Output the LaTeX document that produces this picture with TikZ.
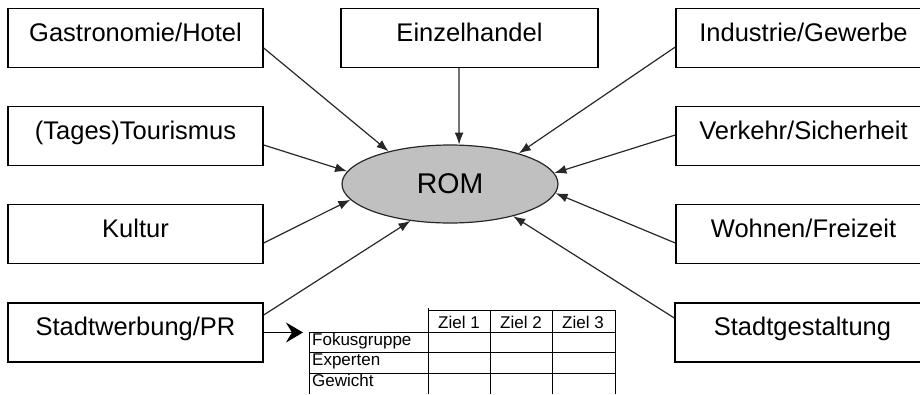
\documentclass[tikz,border=0pt]{standalone}
\usepackage{fontspec}
\setmainfont{Liberation Sans}
\usetikzlibrary{arrows.meta,shapes.geometric}
\definecolor{romgray}{RGB}{192,192,192}
\definecolor{linegray}{RGB}{40,40,40}

\begin{document}
\begin{tikzpicture}[x=1pt,y=-1pt,
	field/.style={shape=rectangle,draw=black,line width=1.4pt,minimum width=255pt,minimum height=59pt,
		inner sep=0pt,text height=18pt,text depth=12pt,font=\fontsize{25.5}{28}\selectfont},
	goal/.style={-{Latex[length=12pt,width=9pt]},draw=linegray,line width=1.2pt},
	cell/.style={inner sep=0pt,font=\fontsize{17}{19}\selectfont},
	grid/.style={draw=black,line width=1pt}]
	
	\useasboundingbox (0,0) rectangle (920,394);
	
	\node[shape=ellipse,draw=linegray,fill=romgray,line width=1.2pt,minimum width=216pt,minimum height=78pt,
		inner sep=0pt,font=\fontsize{28.5}{30}\selectfont] (rom) at (450, 184)  {ROM};
	
	\node[field] (gast) at (135.5, 38)   {Gastronomie/Hotel};
	\node[field] (tour) at (135.5, 136)  {(Tages)Tourismus};
	\node[field] (kult) at (135.5, 234)  {Kultur};
	\node[field] (werb) at (135.5, 332.5) {Stadtwerbung/PR};
	\node[field,minimum width=257pt] (einz) at (469.5, 38) {Einzelhandel};
	\node[field] (indu) at (803.5, 38)   {Industrie/Gewerbe};
	\node[field] (verk) at (803.5, 136)  {Verkehr/Sicherheit};
	\node[field] (wohn) at (803.5, 234)  {Wohnen/Freizeit};
	\node[field] (gest) at (802.5, 332.5) {Stadtgestaltung};
	
	\draw[goal] ([yshift=-10pt]gast.east) -- (rom.152);
	\draw[goal] ([yshift=-9pt]tour.east)  -- (rom.173.5);
	\draw[goal] ([yshift=-9pt]kult.east)  -- (rom.189);
	\draw[goal] ([yshift=17.5pt]werb.east) -- (rom.223);
	\draw[goal] ([xshift=-10.5pt]einz.south) -- (rom.77);
	\draw[goal] ([yshift=-9pt]indu.west)  -- (rom.24.6);
	\draw[goal] ([yshift=1pt]verk.west)   -- (rom.6.5);
	\draw[goal] ([yshift=-9pt]wohn.west)  -- (rom.355.7);
	\draw[goal] ([yshift=14.5pt]gest.west) -- (rom.333);
	
	% table
	\coordinate (tab) at (303, 332.5);
	\draw[-{Stealth[length=17pt,width=20pt,inset=6pt]},draw=black,line width=1.4pt] (werb.east) -- (tab);
	
	\draw[grid] (428, 310) -- (615, 310);
	\draw[grid] (309, 332) -- (615, 332);
	\draw[grid] (309, 352) -- (615, 352);
	\draw[grid] (309, 373) -- (615, 373);
	\draw[grid] (309, 332) -- (309, 394);
	\draw[grid] (428, 308) -- (428, 394);
	\draw[grid] (490, 310) -- (490, 394);
	\draw[grid] (552, 310) -- (552, 394);
	\draw[grid] (615, 310) -- (615, 394);
	
	\node[cell,anchor=base] (z1) at (459, 328) {Ziel 1};
	\node[cell,anchor=base] (z2) at (521, 328) {Ziel 2};
	\node[cell,anchor=base] (z3) at (583, 328) {Ziel 3};
	\node[cell,anchor=base west] (fok) at (312, 345) {Fokusgruppe};
	\node[cell,anchor=base west] (exp) at (312, 365.5) {Experten};
	\node[cell,anchor=base west] (gew) at (312, 386) {Gewicht};
	
\end{tikzpicture}
\end{document}
